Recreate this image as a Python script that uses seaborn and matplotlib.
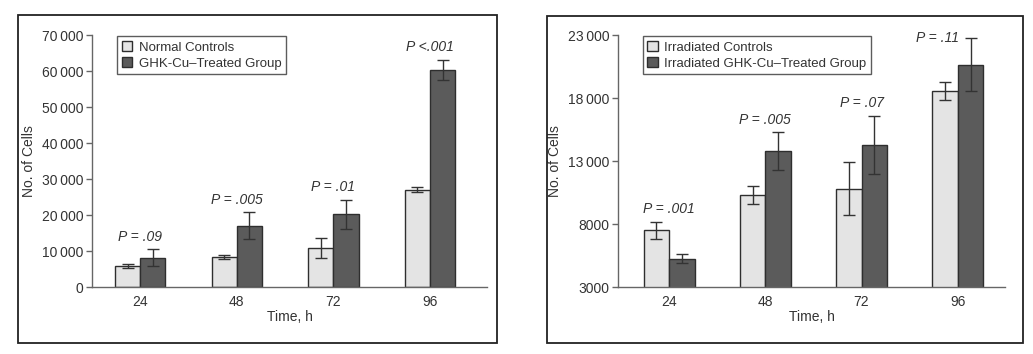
import numpy as np
import pandas as pd
import seaborn as sns
import matplotlib.pyplot as plt
from matplotlib.patches import Rectangle

# data
times = ["24", "48", "72", "96"]

normal_mean = [5900, 8400, 10900, 27100]
normal_err = [600, 650, 2800, 800]
ghk_mean = [8200, 17100, 20200, 60300]
ghk_err = [2300, 3700, 4100, 2900]
p_left = ["P = .09", "P = .005", "P = .01", "P <.001"]

irr_mean = [7500, 10300, 10800, 18550]
irr_err = [700, 700, 2100, 730]
irr_ghk_mean = [5250, 13800, 14300, 20650]
irr_ghk_err = [360, 1500, 2300, 2100]
p_right = ["P = .001", "P = .005", "P = .07", "P = .11"]

left_ticks = [0, 10000, 20000, 30000, 40000, 50000, 60000, 70000]
left_ticklabels = ["0", "10\u2009000", "20\u2009000", "30\u2009000", "40\u2009000",
                   "50\u2009000", "60\u2009000", "70\u2009000"]
right_ticks = [3000, 8000, 13000, 18000, 23000]
right_ticklabels = ["3000", "8000", "13\u2009000", "18\u2009000", "23\u2009000"]

sns.set_style("white")
plt.rcParams["font.family"] = ["Liberation Sans Narrow", "Liberation Sans", "DejaVu Sans"]

light = "#e4e4e4"
dark = "#5b5b5b"
edge = "#2e2e2e"
txt = "#333333"

fig = plt.figure(figsize=(10.33, 3.54), dpi=100)

# panel frames
fig.patches.append(Rectangle((18 / 1033, 1 - 343 / 354), 479 / 1033, 328 / 354,
                             transform=fig.transFigure, fill=False, edgecolor="#222222", lw=1.3))
fig.patches.append(Rectangle((547 / 1033, 1 - 343 / 354), 476 / 1033, 327 / 354,
                             transform=fig.transFigure, fill=False, edgecolor="#222222", lw=1.3))

ax1 = fig.add_axes([92 / 1033, 0.189, (487 - 92) / 1033, 0.712])
ax2 = fig.add_axes([618 / 1033, 0.189, (1005 - 618) / 1033, 0.712])


def draw(ax, names, m1, e1, m2, e2, pvals, ylim, ticks, ticklabels, xlim, width, pspecial=None):
    df = pd.DataFrame({
        "time": times * 2,
        "cells": m1 + m2,
        "group": [names[0]] * 4 + [names[1]] * 4,
    })
    sns.barplot(data=df, x="time", y="cells", hue="group", ax=ax, width=width,
                palette=[light, dark], edgecolor=edge, linewidth=1.0, errorbar=None)
    tops = []
    for cont, err in zip(ax.containers, [e1, e2]):
        xs = [p.get_x() + p.get_width() / 2 for p in cont.patches]
        hs = [p.get_height() for p in cont.patches]
        ax.errorbar(xs, hs, yerr=err, fmt="none", ecolor="#333333", elinewidth=1.0,
                    capsize=4, capthick=1.0, zorder=5)
        tops.append([h + e for h, e in zip(hs, err)])
        if len(tops) == 2:
            dark_x = xs
    for i, p in enumerate(pvals):
        top = max(tops[0][i], tops[1][i])
        if pspecial is not None and i == pspecial:
            ax.annotate(p, xy=(dark_x[i], tops[1][i]), xytext=(-8, 0), textcoords="offset points",
                        ha="right", va="center", fontsize=10, style="italic", color=txt,
                        annotation_clip=False)
        else:
            ax.annotate(p, xy=(i, top), xytext=(0, 4), textcoords="offset points",
                        ha="center", va="bottom", fontsize=10, style="italic", color=txt,
                        annotation_clip=False)
    ax.set_ylim(*ylim)
    ax.set_xlim(*xlim)
    ax.set_yticks(ticks)
    ax.set_yticklabels(ticklabels)
    ax.set_xlabel("Time, h", fontsize=10, color=txt, labelpad=1)
    ax.set_ylabel("No. of Cells", fontsize=10, color=txt, labelpad=4)
    sns.despine(ax=ax)
    for s in ["left", "bottom"]:
        ax.spines[s].set_color("#666666")
        ax.spines[s].set_linewidth(1.0)
    ax.tick_params(axis="y", left=True, length=4, width=1, color="#666666",
                   labelsize=10, labelcolor=txt, pad=2)
    ax.tick_params(axis="x", bottom=False, labelsize=10, labelcolor=txt, pad=2)
    leg = ax.legend(loc="upper left", bbox_to_anchor=(0.06, 1.0), fontsize=9.5,
                    frameon=True, fancybox=False, edgecolor="#333333",
                    handlelength=0.8, handleheight=0.8, handletextpad=0.5,
                    borderpad=0.35, labelspacing=0.25, borderaxespad=0.1)
    leg.get_frame().set_linewidth(1.0)
    for t in leg.get_texts():
        t.set_color(txt)


draw(ax1, ["Normal Controls", "GHK-Cu\u2013Treated Group"], normal_mean, normal_err,
     ghk_mean, ghk_err, p_left, (0, 70000), left_ticks, left_ticklabels, (-0.5, 3.59), 0.52)
draw(ax2, ["Irradiated Controls", "Irradiated GHK-Cu\u2013Treated Group"], irr_mean, irr_err,
     irr_ghk_mean, irr_ghk_err, p_right, (3000, 23000), right_ticks, right_ticklabels,
     (-0.53, 3.49), 0.53, pspecial=3)

fig.savefig("out.png", dpi=100)
